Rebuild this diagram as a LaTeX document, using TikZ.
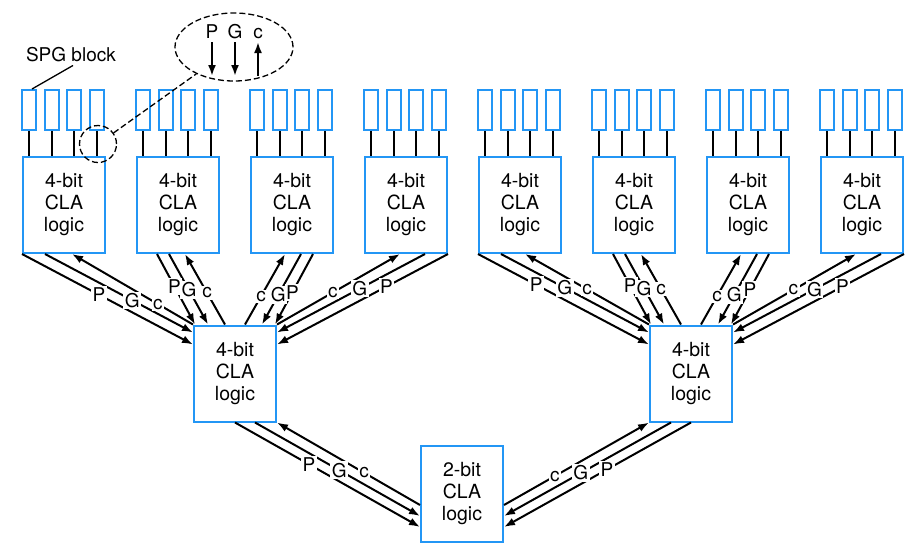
\documentclass[tikz,border=0pt]{standalone}
\usepackage{fontspec}
\setmainfont{TeX Gyre Heros}
\usetikzlibrary{arrows.meta,calc,shapes.geometric}
\definecolor{claBlue}{RGB}{35,150,245}
\begin{document}
\begin{tikzpicture}[x=1pt,y=-1pt,
  cla/.style={draw=claBlue,line width=2pt,minimum width=82pt,minimum height=96pt,inner sep=0pt,align=center,font=\fontsize{19.5}{22}\selectfont},
  spg/.style={draw=claBlue,line width=2pt,minimum width=14pt,minimum height=40pt,inner sep=0pt},
  arr/.style={line width=2pt,-{Latex[length=11pt,width=8pt]}},
  lbl/.style={fill=white,inner sep=1.5pt,font=\fontsize{19}{19}\selectfont},
  txt/.style={inner sep=1pt,font=\fontsize{19}{19}\selectfont},
  wire/.style={line width=2pt},
  dsh/.style={line width=1.3pt,dash pattern=on 6pt off 3pt}]
\useasboundingbox (0,0) rectangle (916,550);
% top boxes with SPG blocks
\foreach \i in {1,...,8} {
  \pgfmathsetmacro\cx{64+114*(\i-1)}
  \node[cla] (t\i) at (\cx,205) {4-bit\\CLA\\logic};
  \foreach \j in {1,...,4} {
    \pgfmathsetmacro\dx{7+22.67*(\j-1)}
    \node[spg] (s\i\j) at ($(t\i.north west)+(\dx,-46)$) {};
    \draw[wire] (s\i\j.south) -- (s\i\j.south |- t\i.north);
  }
}
% middle and bottom boxes
\node[cla] (m1) at (235,373.5) {4-bit\\CLA\\logic};
\node[cla] (m2) at (691,373.5) {4-bit\\CLA\\logic};
\node[cla] (b) at (462,494) {2-bit\\CLA\\logic};
% box 1
\draw[arr] (t1.south west) -- coordinate[pos=0.45] (a1) ($(m1.north west)+(0,20)$);
\draw[arr] ($(t1.south west)+(23,0)$) -- coordinate[pos=0.59] (a2) ($(m1.north west)+(0,8)$);
\draw[arr] (m1.north west) -- coordinate[pos=0.29] (a3) ($(t1.south west)+(50,0)$);
% box 2
\draw[arr] ($(t2.south west)+(21,0)$) -- coordinate[pos=0.46] (a4) ($(m1.north west)+(2,0)$);
\draw[arr] ($(t2.south west)+(33,0)$) -- coordinate[pos=0.51] (a5) ($(m1.north west)+(15,0)$);
\draw[arr] ($(m1.north west)+(32,0)$) -- coordinate[pos=0.45] (a6) ($(t2.south west)+(49,0)$);
% box 3
\draw[arr] ($(t3.south east)+(-21,0)$) -- coordinate[pos=0.54] (a7) ($(m1.north east)+(-2,0)$);
\draw[arr] ($(t3.south east)+(-33,0)$) -- coordinate[pos=0.58] (a8) ($(m1.north east)+(-15,0)$);
\draw[arr] ($(m1.north east)+(-32,0)$) -- coordinate[pos=0.4] (a9) ($(t3.south east)+(-49,0)$);
% box 4
\draw[arr] (t4.south east) -- coordinate[pos=0.36] (a10) ($(m1.north east)+(0,20)$);
\draw[arr] ($(t4.south east)+(-23,0)$) -- coordinate[pos=0.44] (a11) ($(m1.north east)+(0,8)$);
\draw[arr] (m1.north east) -- coordinate[pos=0.455] (a12) ($(t4.south east)+(-48,0)$);
% box 5
\draw[arr] (t5.south west) -- coordinate[pos=0.34] (a13) ($(m2.north west)+(0,20)$);
\draw[arr] ($(t5.south west)+(23,0)$) -- coordinate[pos=0.43] (a14) ($(m2.north west)+(0,8)$);
\draw[arr] (m2.north west) -- coordinate[pos=0.5] (a15) ($(t5.south west)+(47,0)$);
% box 6
\draw[arr] ($(t6.south west)+(21,0)$) -- coordinate[pos=0.45] (a16) ($(m2.north west)+(2,0)$);
\draw[arr] ($(t6.south west)+(33,0)$) -- coordinate[pos=0.49] (a17) ($(m2.north west)+(15,0)$);
\draw[arr] ($(m2.north west)+(32,0)$) -- coordinate[pos=0.5] (a18) ($(t6.south west)+(49,0)$);
% box 7
\draw[arr] ($(t7.south east)+(-21,0)$) -- coordinate[pos=0.5] (a19) ($(m2.north east)+(-2,0)$);
\draw[arr] ($(t7.south east)+(-33,0)$) -- coordinate[pos=0.58] (a20) ($(m2.north east)+(-15,0)$);
\draw[arr] ($(m2.north east)+(-32,0)$) -- coordinate[pos=0.4] (a21) ($(t7.south east)+(-49,0)$);
% box 8
\draw[arr] (t8.south east) -- coordinate[pos=0.36] (a22) ($(m2.north east)+(0,20)$);
\draw[arr] ($(t8.south east)+(-23,0)$) -- coordinate[pos=0.45] (a23) ($(m2.north east)+(0,8)$);
\draw[arr] (m2.north east) -- coordinate[pos=0.49] (a24) ($(t8.south east)+(-48,0)$);
% bottom
\draw[arr] (m1.south) -- coordinate[pos=0.4] (a25) ($(b.west)+(0,33)$);
\draw[arr] ($(m1.south)+(20,0)$) -- coordinate[pos=0.51] (a26) ($(b.west)+(0,22)$);
\draw[arr] ($(b.west)+(0,11)$) -- coordinate[pos=0.39] (a27) (m1.south east);
\draw[arr] ($(b.east)+(0,11)$) -- coordinate[pos=0.35] (a28) (m2.south west);
\draw[arr] ($(m2.south)+(-20,0)$) -- coordinate[pos=0.54] (a29) ($(b.east)+(0,22)$);
\draw[arr] (m2.south) -- coordinate[pos=0.45] (a30) ($(b.east)+(0,33)$);
% labels on top of all connectors
\foreach \n/\t in {a1/P,a2/G,a3/c,a4/P,a5/G,a6/c,a7/P,a8/G,a9/c,a10/P,a11/G,a12/c,
  a13/P,a14/G,a15/c,a16/P,a17/G,a18/c,a19/P,a20/G,a21/c,a22/P,a23/G,a24/c,
  a25/P,a26/G,a27/c,a28/c,a29/G,a30/P}
  \node[lbl] (l\n) at (\n) {\t};
% callout
\node[draw,dsh,ellipse,minimum width=118pt,minimum height=68pt] (ell) at (234,47) {};
\node[txt,anchor=base] (eP) at (212,38) {P};
\node[txt,anchor=base] (eG) at (235,38) {G};
\node[txt,anchor=base] (eC) at (258,38) {c};
\draw[arr] ($(eP.base)+(0,4)$) -- ($(eP.base)+(0,38)$);
\draw[arr] ($(eG.base)+(0,4)$) -- ($(eG.base)+(0,38)$);
\draw[arr] ($(eC.base)+(0,38)$) -- ($(eC.base)+(0,4)$);
\node[draw,dsh,circle,minimum size=37pt,inner sep=0pt] (zc) at (98,144) {};
\draw[dsh] (zc) -- (ell);
\node[txt] (spgl) at (71,55) {SPG block};
\draw[line width=1.3pt] ($(spgl.south)+(2,2)$) -- ($(s11.north)+(3,0)$);
\end{tikzpicture}
\end{document}
